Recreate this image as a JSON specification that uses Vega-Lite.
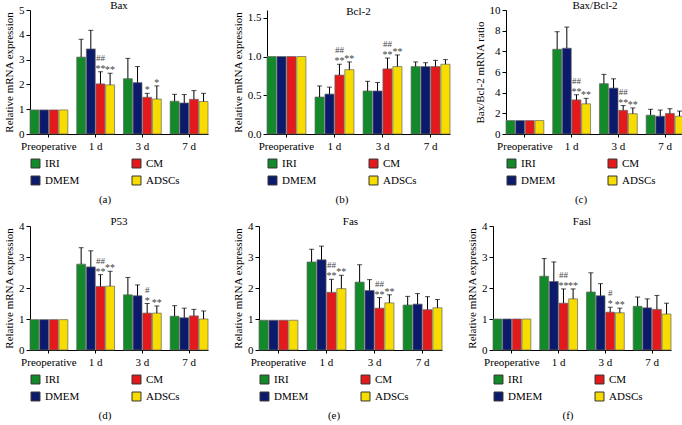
{
  "$schema": "https://vega.github.io/schema/vega-lite/v6.json",
  "padding": {"left": 3, "top": 0, "right": 0, "bottom": 0},
  "background": "white",
  "config": {
    "font": "Liberation Serif",
    "view": {"stroke": null},
    "axis": {"domainColor": "#000", "tickColor": "#000", "labelColor": "#000", "titleColor": "#000", "labelFont": "Liberation Serif", "titleFont": "Liberation Serif", "labelFontSize": 11, "titleFontSize": 11, "titleFontWeight": "normal", "grid": false, "tickSize": 4},
    "axisY": {"labelOverlap": false},
    "title": {"font": "Liberation Serif", "fontSize": 11, "fontWeight": "normal", "color": "#000", "offset": -7},
    "legend": {"labelFont": "Liberation Serif", "labelFontSize": 11, "titleFont": "Liberation Serif", "titleFontSize": 11, "titleFontWeight": "normal", "titleColor": "#000", "labelColor": "#000"}
  },
  "datasets": {
    "bax": [
      {"t": "Preoperative", "g": "IRI", "v": 0.97}, {"t": "Preoperative", "g": "DMEM", "v": 0.97}, {"t": "Preoperative", "g": "CM", "v": 0.97}, {"t": "Preoperative", "g": "ADSCs", "v": 0.97},
      {"t": "1 d", "g": "IRI", "v": 3.1, "hi": 3.82}, {"t": "1 d", "g": "DMEM", "v": 3.43, "hi": 4.18}, {"t": "1 d", "g": "CM", "v": 2.02, "hi": 2.51, "s1": "##", "s2": "**"}, {"t": "1 d", "g": "ADSCs", "v": 1.98, "hi": 2.45, "s2": "**"},
      {"t": "3 d", "g": "IRI", "v": 2.23, "hi": 3.05}, {"t": "3 d", "g": "DMEM", "v": 2.07, "hi": 2.72}, {"t": "3 d", "g": "CM", "v": 1.48, "hi": 1.64, "s2": "*"}, {"t": "3 d", "g": "ADSCs", "v": 1.41, "hi": 1.94, "s2": "*"},
      {"t": "7 d", "g": "IRI", "v": 1.32, "hi": 1.6}, {"t": "7 d", "g": "DMEM", "v": 1.25, "hi": 1.59}, {"t": "7 d", "g": "CM", "v": 1.4, "hi": 1.75}, {"t": "7 d", "g": "ADSCs", "v": 1.31, "hi": 1.64}
    ],
    "bcl2": [
      {"t": "Preoperative", "g": "IRI", "v": 1.0}, {"t": "Preoperative", "g": "DMEM", "v": 1.0}, {"t": "Preoperative", "g": "CM", "v": 1.0}, {"t": "Preoperative", "g": "ADSCs", "v": 1.0},
      {"t": "1 d", "g": "IRI", "v": 0.477, "hi": 0.62}, {"t": "1 d", "g": "DMEM", "v": 0.515, "hi": 0.605}, {"t": "1 d", "g": "CM", "v": 0.76, "hi": 0.9, "s1": "##", "s2": "**"}, {"t": "1 d", "g": "ADSCs", "v": 0.83, "hi": 0.93, "s2": "**"},
      {"t": "3 d", "g": "IRI", "v": 0.555, "hi": 0.68}, {"t": "3 d", "g": "DMEM", "v": 0.555, "hi": 0.665}, {"t": "3 d", "g": "CM", "v": 0.84, "hi": 0.98, "s1": "##", "s2": "**"}, {"t": "3 d", "g": "ADSCs", "v": 0.87, "hi": 1.02, "s2": "**"},
      {"t": "7 d", "g": "IRI", "v": 0.87, "hi": 0.93}, {"t": "7 d", "g": "DMEM", "v": 0.87, "hi": 0.92}, {"t": "7 d", "g": "CM", "v": 0.87, "hi": 0.95}, {"t": "7 d", "g": "ADSCs", "v": 0.9, "hi": 0.96}
    ],
    "ratio": [
      {"t": "Preoperative", "g": "IRI", "v": 1.3}, {"t": "Preoperative", "g": "DMEM", "v": 1.3}, {"t": "Preoperative", "g": "CM", "v": 1.3}, {"t": "Preoperative", "g": "ADSCs", "v": 1.3},
      {"t": "1 d", "g": "IRI", "v": 8.2, "hi": 9.9}, {"t": "1 d", "g": "DMEM", "v": 8.3, "hi": 10.35}, {"t": "1 d", "g": "CM", "v": 3.3, "hi": 3.8, "s1": "##", "s2": "**"}, {"t": "1 d", "g": "ADSCs", "v": 2.92, "hi": 3.45, "s2": "**"},
      {"t": "3 d", "g": "IRI", "v": 4.87, "hi": 5.77}, {"t": "3 d", "g": "DMEM", "v": 4.44, "hi": 5.34}, {"t": "3 d", "g": "CM", "v": 2.29, "hi": 2.75, "s1": "##", "s2": "**"}, {"t": "3 d", "g": "ADSCs", "v": 1.96, "hi": 2.52, "s2": "**"},
      {"t": "7 d", "g": "IRI", "v": 1.82, "hi": 2.39}, {"t": "7 d", "g": "DMEM", "v": 1.72, "hi": 2.32}, {"t": "7 d", "g": "CM", "v": 1.99, "hi": 2.45}, {"t": "7 d", "g": "ADSCs", "v": 1.72, "hi": 2.22}
    ],
    "p53": [
      {"t": "Preoperative", "g": "IRI", "v": 0.98}, {"t": "Preoperative", "g": "DMEM", "v": 0.98}, {"t": "Preoperative", "g": "CM", "v": 0.98}, {"t": "Preoperative", "g": "ADSCs", "v": 0.98},
      {"t": "1 d", "g": "IRI", "v": 2.77, "hi": 3.3}, {"t": "1 d", "g": "DMEM", "v": 2.68, "hi": 3.2}, {"t": "1 d", "g": "CM", "v": 2.05, "hi": 2.43, "s1": "##", "s2": "**"}, {"t": "1 d", "g": "ADSCs", "v": 2.06, "hi": 2.54, "s2": "**"},
      {"t": "3 d", "g": "IRI", "v": 1.78, "hi": 2.34}, {"t": "3 d", "g": "DMEM", "v": 1.75, "hi": 2.1}, {"t": "3 d", "g": "CM", "v": 1.19, "hi": 1.5, "s1": "#", "s2": "*"}, {"t": "3 d", "g": "ADSCs", "v": 1.19, "hi": 1.42, "s2": "**"},
      {"t": "7 d", "g": "IRI", "v": 1.09, "hi": 1.43}, {"t": "7 d", "g": "DMEM", "v": 1.04, "hi": 1.35}, {"t": "7 d", "g": "CM", "v": 1.1, "hi": 1.31}, {"t": "7 d", "g": "ADSCs", "v": 1.0, "hi": 1.26}
    ],
    "fas": [
      {"t": "Preoperative", "g": "IRI", "v": 0.96}, {"t": "Preoperative", "g": "DMEM", "v": 0.96}, {"t": "Preoperative", "g": "CM", "v": 0.96}, {"t": "Preoperative", "g": "ADSCs", "v": 0.96},
      {"t": "1 d", "g": "IRI", "v": 2.84, "hi": 3.25}, {"t": "1 d", "g": "DMEM", "v": 2.91, "hi": 3.35}, {"t": "1 d", "g": "CM", "v": 1.86, "hi": 2.28, "s1": "##", "s2": "**"}, {"t": "1 d", "g": "ADSCs", "v": 1.98, "hi": 2.41, "s2": "**"},
      {"t": "3 d", "g": "IRI", "v": 2.19, "hi": 2.75}, {"t": "3 d", "g": "DMEM", "v": 1.92, "hi": 2.27}, {"t": "3 d", "g": "CM", "v": 1.35, "hi": 1.69, "s1": "##", "s2": "**"}, {"t": "3 d", "g": "ADSCs", "v": 1.52, "hi": 1.78, "s2": "**"},
      {"t": "7 d", "g": "IRI", "v": 1.45, "hi": 1.73}, {"t": "7 d", "g": "DMEM", "v": 1.48, "hi": 1.82}, {"t": "7 d", "g": "CM", "v": 1.3, "hi": 1.72}, {"t": "7 d", "g": "ADSCs", "v": 1.36, "hi": 1.63}
    ],
    "fasl": [
      {"t": "Preoperative", "g": "IRI", "v": 1.0}, {"t": "Preoperative", "g": "DMEM", "v": 1.0}, {"t": "Preoperative", "g": "CM", "v": 1.0}, {"t": "Preoperative", "g": "ADSCs", "v": 1.0},
      {"t": "1 d", "g": "IRI", "v": 2.38, "hi": 2.95}, {"t": "1 d", "g": "DMEM", "v": 2.21, "hi": 2.84}, {"t": "1 d", "g": "CM", "v": 1.51, "hi": 1.97, "s1": "##", "s2": "**"}, {"t": "1 d", "g": "ADSCs", "v": 1.65, "hi": 1.97, "s2": "**"},
      {"t": "3 d", "g": "IRI", "v": 1.87, "hi": 2.49}, {"t": "3 d", "g": "DMEM", "v": 1.75, "hi": 2.14}, {"t": "3 d", "g": "CM", "v": 1.22, "hi": 1.38, "s1": "#", "s2": "*"}, {"t": "3 d", "g": "ADSCs", "v": 1.2, "hi": 1.35, "s2": "**"},
      {"t": "7 d", "g": "IRI", "v": 1.41, "hi": 1.71}, {"t": "7 d", "g": "DMEM", "v": 1.36, "hi": 1.65}, {"t": "7 d", "g": "CM", "v": 1.31, "hi": 1.76}, {"t": "7 d", "g": "ADSCs", "v": 1.16, "hi": 1.51}
    ]
  },
  "resolve": {"scale": {"x": "independent", "y": "independent", "color": "independent", "xOffset": "independent"}, "legend": {"color": "independent"}},
  "vconcat": [
    {
      "resolve": {"scale": {"x": "independent", "y": "independent", "color": "independent", "xOffset": "independent"}, "legend": {"color": "independent"}},
      "spacing": 23,
      "hconcat": [
        {
          "width": 178, "height": 124,
          "title": "Bax",
          "data": {"name": "bax"},
          "encoding": {
            "x": {"field": "t", "type": "nominal", "sort": ["Preoperative", "1 d", "3 d", "7 d"], "scale": {"paddingInner": 0.19, "paddingOuter": 0}, "axis": {"title": null, "labelAngle": 0, "tickSize": 3, "labelPadding": 3}},
            "xOffset": {"field": "g", "type": "nominal", "sort": ["IRI", "DMEM", "CM", "ADSCs"], "scale": {"paddingInner": 0.08}}
          },
          "layer": [
            {"mark": {"type": "bar", "stroke": "#666", "strokeWidth": 0.7},
             "encoding": {"y": {"field": "v", "type": "quantitative", "scale": {"domain": [0, 5]}, "axis": {"values": [0, 1, 2, 3, 4, 5], "labelOverlap": false, "title": "Relative mRNA expression"}},
               "color": {"field": "g", "type": "nominal", "scale": {"domain": ["IRI", "DMEM", "CM", "ADSCs"], "range": ["#138a2a", "#0c1a6b", "#e3191c", "#f7dc00"]},
                 "legend": {"values": ["IRI", "CM", "DMEM", "ADSCs"], "columns": 2, "orient": "bottom", "title": "(a)", "titleOrient": "bottom", "titleAnchor": "middle", "titlePadding": 7, "symbolType": "square", "symbolSize": 80, "symbolStrokeColor": "#333", "symbolStrokeWidth": 1, "columnPadding": 50, "rowPadding": 4, "offset": 7}}}},
            {"mark": {"type": "rule", "color": "#000", "strokeWidth": 1}, "encoding": {"y": {"field": "v", "type": "quantitative", "axis": {"values": [0, 1, 2, 3, 4, 5], "labelOverlap": false, "title": "Relative mRNA expression"}}, "y2": {"field": "hi"}}},
            {"mark": {"type": "tick", "color": "#000", "size": 5, "thickness": 1}, "encoding": {"y": {"field": "hi", "type": "quantitative", "axis": {"values": [0, 1, 2, 3, 4, 5], "labelOverlap": false, "title": "Relative mRNA expression"}}}},
            {"transform": [{"filter": "isValid(datum.s2)"}], "mark": {"type": "text", "baseline": "alphabetic", "fontSize": 10, "color": "#444", "dy": 0}, "encoding": {"y": {"field": "hi", "type": "quantitative", "axis": {"values": [0, 1, 2, 3, 4, 5], "labelOverlap": false, "title": "Relative mRNA expression"}}, "text": {"field": "s2"}}},
            {"transform": [{"filter": "isValid(datum.s1)"}], "mark": {"type": "text", "baseline": "alphabetic", "fontSize": 9, "color": "#444", "dy": -11}, "encoding": {"y": {"field": "hi", "type": "quantitative", "axis": {"values": [0, 1, 2, 3, 4, 5], "labelOverlap": false, "title": "Relative mRNA expression"}}, "text": {"field": "s1"}}}
          ]
        },
        {
          "width": 183, "height": 124,
          "title": "Bcl-2",
          "data": {"name": "bcl2"},
          "encoding": {
            "x": {"field": "t", "type": "nominal", "sort": ["Preoperative", "1 d", "3 d", "7 d"], "scale": {"paddingInner": 0.19, "paddingOuter": 0}, "axis": {"title": null, "labelAngle": 0, "tickSize": 3, "labelPadding": 3}},
            "xOffset": {"field": "g", "type": "nominal", "sort": ["IRI", "DMEM", "CM", "ADSCs"], "scale": {"paddingInner": 0.08}}
          },
          "layer": [
            {"mark": {"type": "bar", "stroke": "#666", "strokeWidth": 0.7},
             "encoding": {"y": {"field": "v", "type": "quantitative", "scale": {"domain": [0, 1.5]}, "axis": {"values": [0, 0.5, 1, 1.5], "format": ".1f", "labelOverlap": false, "title": "Relative mRNA expression"}},
               "color": {"field": "g", "type": "nominal", "scale": {"domain": ["IRI", "DMEM", "CM", "ADSCs"], "range": ["#138a2a", "#0c1a6b", "#e3191c", "#f7dc00"]},
                 "legend": {"values": ["IRI", "CM", "DMEM", "ADSCs"], "columns": 2, "orient": "bottom", "title": "(b)", "titleOrient": "bottom", "titleAnchor": "middle", "titlePadding": 7, "symbolType": "square", "symbolSize": 80, "symbolStrokeColor": "#333", "symbolStrokeWidth": 1, "columnPadding": 50, "rowPadding": 4, "offset": 7}}}},
            {"mark": {"type": "rule", "color": "#000", "strokeWidth": 1}, "encoding": {"y": {"field": "v", "type": "quantitative", "axis": {"values": [0, 0.5, 1, 1.5], "format": ".1f", "labelOverlap": false, "title": "Relative mRNA expression"}}, "y2": {"field": "hi"}}},
            {"mark": {"type": "tick", "color": "#000", "size": 5, "thickness": 1}, "encoding": {"y": {"field": "hi", "type": "quantitative", "axis": {"values": [0, 0.5, 1, 1.5], "format": ".1f", "labelOverlap": false, "title": "Relative mRNA expression"}}}},
            {"transform": [{"filter": "isValid(datum.s2)"}], "mark": {"type": "text", "baseline": "alphabetic", "fontSize": 10, "color": "#444", "dy": 0}, "encoding": {"y": {"field": "hi", "type": "quantitative", "axis": {"values": [0, 0.5, 1, 1.5], "format": ".1f", "labelOverlap": false, "title": "Relative mRNA expression"}}, "text": {"field": "s2"}}},
            {"transform": [{"filter": "isValid(datum.s1)"}], "mark": {"type": "text", "baseline": "alphabetic", "fontSize": 9, "color": "#444", "dy": -11}, "encoding": {"y": {"field": "hi", "type": "quantitative", "axis": {"values": [0, 0.5, 1, 1.5], "format": ".1f", "labelOverlap": false, "title": "Relative mRNA expression"}}, "text": {"field": "s1"}}}
          ]
        },
        {
          "width": 178, "height": 124,
          "title": "Bax/Bcl-2",
          "data": {"name": "ratio"},
          "encoding": {
            "x": {"field": "t", "type": "nominal", "sort": ["Preoperative", "1 d", "3 d", "7 d"], "scale": {"paddingInner": 0.19, "paddingOuter": 0}, "axis": {"title": null, "labelAngle": 0, "tickSize": 3, "labelPadding": 3}},
            "xOffset": {"field": "g", "type": "nominal", "sort": ["IRI", "DMEM", "CM", "ADSCs"], "scale": {"paddingInner": 0.08}}
          },
          "layer": [
            {"mark": {"type": "bar", "stroke": "#666", "strokeWidth": 0.7},
             "encoding": {"y": {"field": "v", "type": "quantitative", "scale": {"domain": [0, 12]}, "axis": {"values": [0, 2, 4, 6, 8, 10, 12], "labelOverlap": false, "labelExpr": "datum.value == 8 ? '4' : datum.value == 10 ? '8' : datum.value == 12 ? '10' : datum.label", "title": "Bax/Bcl-2 mRNA ratio"}},
               "color": {"field": "g", "type": "nominal", "scale": {"domain": ["IRI", "DMEM", "CM", "ADSCs"], "range": ["#138a2a", "#0c1a6b", "#e3191c", "#f7dc00"]},
                 "legend": {"values": ["IRI", "CM", "DMEM", "ADSCs"], "columns": 2, "orient": "bottom", "title": "(c)", "titleOrient": "bottom", "titleAnchor": "middle", "titlePadding": 7, "symbolType": "square", "symbolSize": 80, "symbolStrokeColor": "#333", "symbolStrokeWidth": 1, "columnPadding": 50, "rowPadding": 4, "offset": 7}}}},
            {"mark": {"type": "rule", "color": "#000", "strokeWidth": 1}, "encoding": {"y": {"field": "v", "type": "quantitative", "axis": {"values": [0, 2, 4, 6, 8, 10, 12], "labelOverlap": false, "labelExpr": "datum.value == 8 ? '4' : datum.value == 10 ? '8' : datum.value == 12 ? '10' : datum.label", "title": "Bax/Bcl-2 mRNA ratio"}}, "y2": {"field": "hi"}}},
            {"mark": {"type": "tick", "color": "#000", "size": 5, "thickness": 1}, "encoding": {"y": {"field": "hi", "type": "quantitative", "axis": {"values": [0, 2, 4, 6, 8, 10, 12], "labelOverlap": false, "labelExpr": "datum.value == 8 ? '4' : datum.value == 10 ? '8' : datum.value == 12 ? '10' : datum.label", "title": "Bax/Bcl-2 mRNA ratio"}}}},
            {"transform": [{"filter": "isValid(datum.s2)"}], "mark": {"type": "text", "baseline": "alphabetic", "fontSize": 10, "color": "#444", "dy": 0}, "encoding": {"y": {"field": "hi", "type": "quantitative", "axis": {"values": [0, 2, 4, 6, 8, 10, 12], "labelOverlap": false, "labelExpr": "datum.value == 8 ? '4' : datum.value == 10 ? '8' : datum.value == 12 ? '10' : datum.label", "title": "Bax/Bcl-2 mRNA ratio"}}, "text": {"field": "s2"}}},
            {"transform": [{"filter": "isValid(datum.s1)"}], "mark": {"type": "text", "baseline": "alphabetic", "fontSize": 9, "color": "#444", "dy": -11}, "encoding": {"y": {"field": "hi", "type": "quantitative", "axis": {"values": [0, 2, 4, 6, 8, 10, 12], "labelOverlap": false, "labelExpr": "datum.value == 8 ? '4' : datum.value == 10 ? '8' : datum.value == 12 ? '10' : datum.label", "title": "Bax/Bcl-2 mRNA ratio"}}, "text": {"field": "s1"}}}
          ]
        }
      ]
    },
    {
      "resolve": {"scale": {"x": "independent", "y": "independent", "color": "independent", "xOffset": "independent"}, "legend": {"color": "independent"}},
      "spacing": 23,
      "hconcat": [
        {
          "width": 178, "height": 124,
          "title": "P53",
          "data": {"name": "p53"},
          "encoding": {
            "x": {"field": "t", "type": "nominal", "sort": ["Preoperative", "1 d", "3 d", "7 d"], "scale": {"paddingInner": 0.19, "paddingOuter": 0}, "axis": {"title": null, "labelAngle": 0, "tickSize": 3, "labelPadding": 3}},
            "xOffset": {"field": "g", "type": "nominal", "sort": ["IRI", "DMEM", "CM", "ADSCs"], "scale": {"paddingInner": 0.08}}
          },
          "layer": [
            {"mark": {"type": "bar", "stroke": "#666", "strokeWidth": 0.7},
             "encoding": {"y": {"field": "v", "type": "quantitative", "scale": {"domain": [0, 4]}, "axis": {"values": [0, 1, 2, 3, 4], "labelOverlap": false, "title": "Relative mRNA expression"}},
               "color": {"field": "g", "type": "nominal", "scale": {"domain": ["IRI", "DMEM", "CM", "ADSCs"], "range": ["#138a2a", "#0c1a6b", "#e3191c", "#f7dc00"]},
                 "legend": {"values": ["IRI", "CM", "DMEM", "ADSCs"], "columns": 2, "orient": "bottom", "title": "(d)", "titleOrient": "bottom", "titleAnchor": "middle", "titlePadding": 7, "symbolType": "square", "symbolSize": 80, "symbolStrokeColor": "#333", "symbolStrokeWidth": 1, "columnPadding": 50, "rowPadding": 4, "offset": 7}}}},
            {"mark": {"type": "rule", "color": "#000", "strokeWidth": 1}, "encoding": {"y": {"field": "v", "type": "quantitative", "axis": {"values": [0, 1, 2, 3, 4], "labelOverlap": false, "title": "Relative mRNA expression"}}, "y2": {"field": "hi"}}},
            {"mark": {"type": "tick", "color": "#000", "size": 5, "thickness": 1}, "encoding": {"y": {"field": "hi", "type": "quantitative", "axis": {"values": [0, 1, 2, 3, 4], "labelOverlap": false, "title": "Relative mRNA expression"}}}},
            {"transform": [{"filter": "isValid(datum.s2)"}], "mark": {"type": "text", "baseline": "alphabetic", "fontSize": 10, "color": "#444", "dy": 0}, "encoding": {"y": {"field": "hi", "type": "quantitative", "axis": {"values": [0, 1, 2, 3, 4], "labelOverlap": false, "title": "Relative mRNA expression"}}, "text": {"field": "s2"}}},
            {"transform": [{"filter": "isValid(datum.s1)"}], "mark": {"type": "text", "baseline": "alphabetic", "fontSize": 9, "color": "#444", "dy": -11}, "encoding": {"y": {"field": "hi", "type": "quantitative", "axis": {"values": [0, 1, 2, 3, 4], "labelOverlap": false, "title": "Relative mRNA expression"}}, "text": {"field": "s1"}}}
          ]
        },
        {
          "width": 183, "height": 124,
          "title": "Fas",
          "data": {"name": "fas"},
          "encoding": {
            "x": {"field": "t", "type": "nominal", "sort": ["Preoperative", "1 d", "3 d", "7 d"], "scale": {"paddingInner": 0.19, "paddingOuter": 0}, "axis": {"title": null, "labelAngle": 0, "tickSize": 3, "labelPadding": 3}},
            "xOffset": {"field": "g", "type": "nominal", "sort": ["IRI", "DMEM", "CM", "ADSCs"], "scale": {"paddingInner": 0.08}}
          },
          "layer": [
            {"mark": {"type": "bar", "stroke": "#666", "strokeWidth": 0.7},
             "encoding": {"y": {"field": "v", "type": "quantitative", "scale": {"domain": [0, 4]}, "axis": {"values": [0, 1, 2, 3, 4], "labelOverlap": false, "title": "Relative mRNA expression"}},
               "color": {"field": "g", "type": "nominal", "scale": {"domain": ["IRI", "DMEM", "CM", "ADSCs"], "range": ["#138a2a", "#0c1a6b", "#e3191c", "#f7dc00"]},
                 "legend": {"values": ["IRI", "CM", "DMEM", "ADSCs"], "columns": 2, "orient": "bottom", "title": "(e)", "titleOrient": "bottom", "titleAnchor": "middle", "titlePadding": 7, "symbolType": "square", "symbolSize": 80, "symbolStrokeColor": "#333", "symbolStrokeWidth": 1, "columnPadding": 50, "rowPadding": 4, "offset": 7}}}},
            {"mark": {"type": "rule", "color": "#000", "strokeWidth": 1}, "encoding": {"y": {"field": "v", "type": "quantitative", "axis": {"values": [0, 1, 2, 3, 4], "labelOverlap": false, "title": "Relative mRNA expression"}}, "y2": {"field": "hi"}}},
            {"mark": {"type": "tick", "color": "#000", "size": 5, "thickness": 1}, "encoding": {"y": {"field": "hi", "type": "quantitative", "axis": {"values": [0, 1, 2, 3, 4], "labelOverlap": false, "title": "Relative mRNA expression"}}}},
            {"transform": [{"filter": "isValid(datum.s2)"}], "mark": {"type": "text", "baseline": "alphabetic", "fontSize": 10, "color": "#444", "dy": 0}, "encoding": {"y": {"field": "hi", "type": "quantitative", "axis": {"values": [0, 1, 2, 3, 4], "labelOverlap": false, "title": "Relative mRNA expression"}}, "text": {"field": "s2"}}},
            {"transform": [{"filter": "isValid(datum.s1)"}], "mark": {"type": "text", "baseline": "alphabetic", "fontSize": 9, "color": "#444", "dy": -11}, "encoding": {"y": {"field": "hi", "type": "quantitative", "axis": {"values": [0, 1, 2, 3, 4], "labelOverlap": false, "title": "Relative mRNA expression"}}, "text": {"field": "s1"}}}
          ]
        },
        {
          "width": 178, "height": 124,
          "title": "Fasl",
          "data": {"name": "fasl"},
          "encoding": {
            "x": {"field": "t", "type": "nominal", "sort": ["Preoperative", "1 d", "3 d", "7 d"], "scale": {"paddingInner": 0.19, "paddingOuter": 0}, "axis": {"title": null, "labelAngle": 0, "tickSize": 3, "labelPadding": 3}},
            "xOffset": {"field": "g", "type": "nominal", "sort": ["IRI", "DMEM", "CM", "ADSCs"], "scale": {"paddingInner": 0.08}}
          },
          "layer": [
            {"mark": {"type": "bar", "stroke": "#666", "strokeWidth": 0.7},
             "encoding": {"y": {"field": "v", "type": "quantitative", "scale": {"domain": [0, 4]}, "axis": {"values": [0, 1, 2, 3, 4], "labelOverlap": false, "title": "Relative mRNA expression"}},
               "color": {"field": "g", "type": "nominal", "scale": {"domain": ["IRI", "DMEM", "CM", "ADSCs"], "range": ["#138a2a", "#0c1a6b", "#e3191c", "#f7dc00"]},
                 "legend": {"values": ["IRI", "CM", "DMEM", "ADSCs"], "columns": 2, "orient": "bottom", "title": "(f)", "titleOrient": "bottom", "titleAnchor": "middle", "titlePadding": 7, "symbolType": "square", "symbolSize": 80, "symbolStrokeColor": "#333", "symbolStrokeWidth": 1, "columnPadding": 50, "rowPadding": 4, "offset": 7}}}},
            {"mark": {"type": "rule", "color": "#000", "strokeWidth": 1}, "encoding": {"y": {"field": "v", "type": "quantitative", "axis": {"values": [0, 1, 2, 3, 4], "labelOverlap": false, "title": "Relative mRNA expression"}}, "y2": {"field": "hi"}}},
            {"mark": {"type": "tick", "color": "#000", "size": 5, "thickness": 1}, "encoding": {"y": {"field": "hi", "type": "quantitative", "axis": {"values": [0, 1, 2, 3, 4], "labelOverlap": false, "title": "Relative mRNA expression"}}}},
            {"transform": [{"filter": "isValid(datum.s2)"}], "mark": {"type": "text", "baseline": "alphabetic", "fontSize": 10, "color": "#444", "dy": 0}, "encoding": {"y": {"field": "hi", "type": "quantitative", "axis": {"values": [0, 1, 2, 3, 4], "labelOverlap": false, "title": "Relative mRNA expression"}}, "text": {"field": "s2"}}},
            {"transform": [{"filter": "isValid(datum.s1)"}], "mark": {"type": "text", "baseline": "alphabetic", "fontSize": 9, "color": "#444", "dy": -11}, "encoding": {"y": {"field": "hi", "type": "quantitative", "axis": {"values": [0, 1, 2, 3, 4], "labelOverlap": false, "title": "Relative mRNA expression"}}, "text": {"field": "s1"}}}
          ]
        }
      ]
    }
  ],
  "spacing": 11
}
